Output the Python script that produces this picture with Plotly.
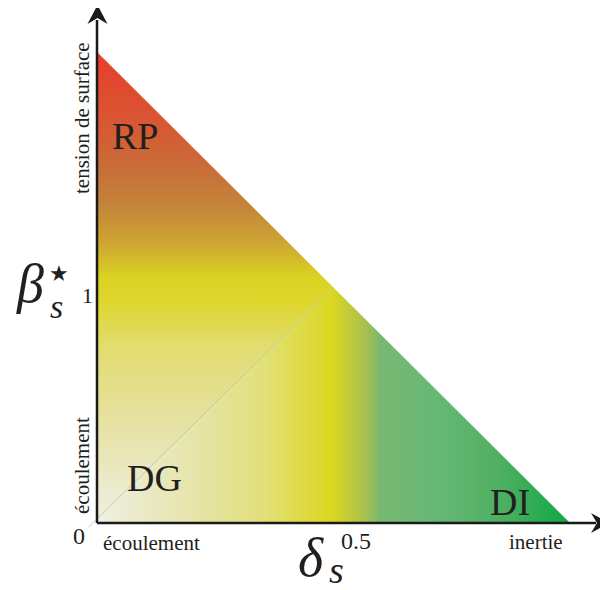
import plotly.graph_objects as go

# regime diagram: delta_s on x (0..1), beta_s* on y (0..2)
corner_x = [0.0, 0.0, 1.0]
corner_y = [0.0, 2.0, 0.0]
split_x, split_y = 0.5, 1.0          # mid point of the hypotenuse

regions = ['RP', 'DG', 'DI']
x_ticks = ['0.5']
y_ticks = ['1']
x_ends = ['écoulement', 'inertie']
y_ends = ['écoulement', 'tension de surface']

# colour ramps
vert_scale = [
    [0.00, '#f0efe4'], [0.20, '#e6e2a6'], [0.38, '#e2dc6e'], [0.47, '#ddd62c'],
    [0.52, '#dbd322'], [0.60, '#cca232'], [0.68, '#c4823a'], [0.76, '#c96c38'],
    [0.86, '#d95532'], [1.00, '#e83d2c'],
]
horiz_scale = [
    [0.00, '#efefe2'], [0.21, '#e5e4a8'], [0.355, '#e2e078'], [0.495, '#dcd720'],
    [0.567, '#a9c050'], [0.60, '#78b872'], [0.706, '#68b876'], [0.848, '#50b062'],
    [1.00, '#0ea846'],
]

W, H = 608, 590
PAGE = 8                  # body margin of the page
OX, OY = 97, 523          # origin, in page pixels
SX, SY = 473, 235.5       # pixels per unit


def px(p):
    return (p - OX) / SX


def py(p):
    return (OY - p) / SY


fig = go.Figure()

# upper-left part (vertical ramp)
fig.add_trace(go.Scatter(
    x=[corner_x[0], corner_x[1], split_x, corner_x[0]],
    y=[corner_y[0], corner_y[1], split_y, corner_y[0]],
    mode='lines', line=dict(width=0), fill='toself',
    fillgradient=dict(type='vertical', colorscale=vert_scale, start=0, stop=2),
    hoverinfo='skip', showlegend=False,
))

# lower-right part (horizontal ramp)
fig.add_trace(go.Scatter(
    x=[corner_x[0], split_x, corner_x[2], corner_x[0]],
    y=[corner_y[0], split_y, corner_y[2], corner_y[0]],
    mode='lines', line=dict(width=0), fill='toself',
    fillgradient=dict(type='horizontal', colorscale=horiz_scale, start=0, stop=1),
    hoverinfo='skip', showlegend=False,
))

# thin separator
fig.add_trace(go.Scatter(
    x=[-0.018, split_x], y=[-0.018, split_y], mode='lines',
    line=dict(color='#a6d39a', width=0.8), hoverinfo='skip', showlegend=False,
))

# axes with stealth arrow heads
axis_col = '#1a1a1a'
fig.add_shape(type='line', x0=0, y0=0, x1=0, y1=py(20), line=dict(color=axis_col, width=2.5))
fig.add_shape(type='line', x0=0, y0=0, x1=px(596), y1=0, line=dict(color=axis_col, width=2.5))
fig.add_shape(type='path', fillcolor=axis_col, line=dict(width=0),
              path=f'M {px(97.5)},{py(5)} L {px(107.5)},{py(24)} L {px(97.5)},{py(18)} '
                   f'L {px(87.5)},{py(24)} Z')
fig.add_shape(type='path', fillcolor=axis_col, line=dict(width=0),
              path=f'M {px(609)},{py(523)} L {px(591)},{py(533)} L {px(597)},{py(523)} '
                   f'L {px(591)},{py(513)} Z')

serif = 'Liberation Serif'
txt = '#231f20'


def label(text, x, y, size, angle=0, italic=False, fam=serif):
    fig.add_annotation(x=px(x), y=py(y), text=f'<i>{text}</i>' if italic else text,
                       showarrow=False, textangle=angle,
                       font=dict(family=fam, size=size, color=txt),
                       xanchor='center', yanchor='middle')


# region names
label(regions[0], 135, 136, 38)
label(regions[1], 154, 478, 38)
label(regions[2], 510, 502, 38)

# end labels
label(y_ends[1], 82, 118, 21, angle=-90)
label(y_ends[0], 82, 466, 21, angle=-90)
label(x_ends[0], 151, 543, 21)
label(x_ends[1], 536, 542, 21)

# tick labels
label('0', 79, 536, 24)
label(y_ticks[0], 87, 295, 22)
label(x_ticks[0], 356, 541, 24)

# axis symbols
label('β', 30, 284, 54, italic=True)
label('s', 56, 306, 34, italic=True)
label('★', 59, 273, 22, fam='DejaVu Sans')
label('δ', 311, 558, 54, italic=True)
label('s', 336, 570, 38, italic=True)

# the figure sits 8 px in from the page corner
fig.update_xaxes(range=[px(PAGE), px(PAGE + W)], visible=False, fixedrange=True)
fig.update_yaxes(range=[py(PAGE + H), py(PAGE)], visible=False, fixedrange=True)
fig.update_layout(
    width=W, height=H,
    margin=dict(l=0, r=0, t=0, b=0),
    plot_bgcolor='white', paper_bgcolor='white',
    showlegend=False,
)

fig.write_html('out.html')
